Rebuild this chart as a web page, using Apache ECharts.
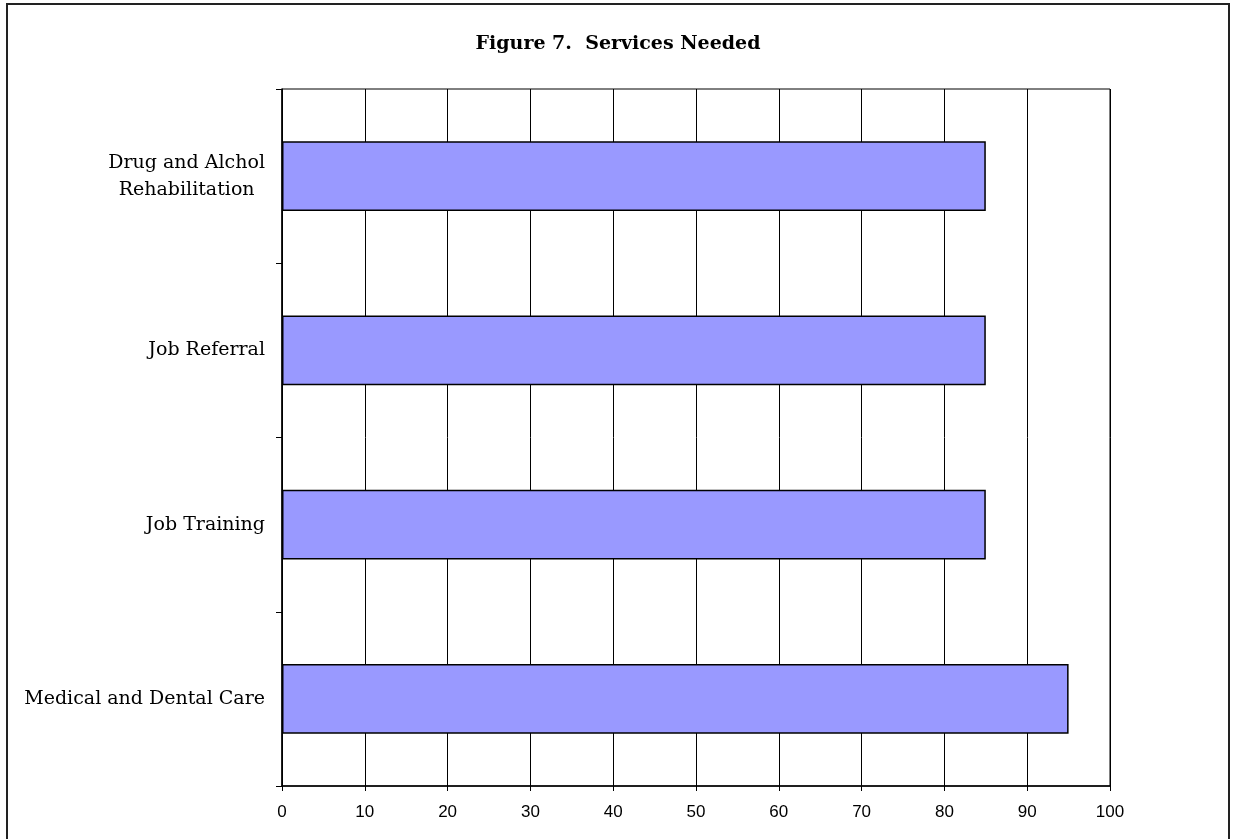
<!DOCTYPE html>
<html>
<head>
<meta charset="utf-8">
<script src="https://cdn.jsdelivr.net/npm/echarts@6/dist/echarts.min.js"></script>
<style>
  html, body { margin: 0; padding: 0; background: #fff; }
  #frame {
    position: absolute; left: 6px; top: 3px;
    width: 1224px; height: 850px;
    border: 2px solid #222; box-sizing: border-box;
  }
  #chart { position: absolute; left: 0; top: 0; width: 1236px; height: 839px; }
</style>
</head>
<body>
<div id="frame"></div>
<div id="chart"></div>
<script>
// Services needed, listed top to bottom
const categories = [
  'Drug and Alchol\nRehabilitation',
  'Job Referral',
  'Job Training',
  'Medical and Dental Care'
];
const values = [85, 85, 85, 95];
const xTicks = [0, 10, 20, 30, 40, 50, 60, 70, 80, 90, 100];

const serif = '"DejaVu Serif", serif';

const chart = echarts.init(document.getElementById('chart'));

chart.setOption({
  animation: false,
  backgroundColor: 'transparent',
  title: {
    text: 'Figure 7.  Services Needed',
    left: 'center',
    top: 30,
    textStyle: {
      fontFamily: serif,
      fontWeight: 'bold',
      fontSize: 19,
      color: '#000'
    }
  },
  grid: {
    left: 282, right: 126, top: 89, bottom: 53,
    show: true,
    borderColor: '#000',
    borderWidth: 1
  },
  xAxis: {
    type: 'value',
    min: xTicks[0],
    max: xTicks[xTicks.length - 1],
    interval: 10,
    axisLine: { show: true, lineStyle: { color: '#000', width: 1.5 } },
    axisTick: { show: true, length: 5, lineStyle: { color: '#000' } },
    splitLine: { show: true, lineStyle: { color: '#000', width: 1 } },
    axisLabel: {
      margin: 18,
      fontFamily: '"Liberation Sans", Arial, sans-serif',
      fontSize: 17,
      color: '#000'
    }
  },
  yAxis: {
    type: 'category',
    inverse: true,
    data: categories,
    axisLine: { show: true, lineStyle: { color: '#000', width: 1.5 } },
    axisTick: { show: true, length: 6, alignWithLabel: false, lineStyle: { color: '#000' } },
    splitLine: { show: false },
    axisLabel: {
      margin: 17,
      color: '#000',
      fontFamily: serif,
      fontSize: 19,
      lineHeight: 27,
      formatter: function (v) {
        return v.split('\n').map(function (s) { return '{c|' + s + '}'; }).join('\n');
      },
      rich: {
        c: {
          align: 'center',
          fontFamily: serif,
          fontSize: 19,
          lineHeight: 27,
          color: '#000'
        }
      }
    }
  },
  series: [{
    type: 'bar',
    data: values,
    barWidth: '40%',
    itemStyle: {
      color: '#9999FF',
      borderColor: '#000',
      borderWidth: 1.5
    }
  }]
});
</script>
</body>
</html>
